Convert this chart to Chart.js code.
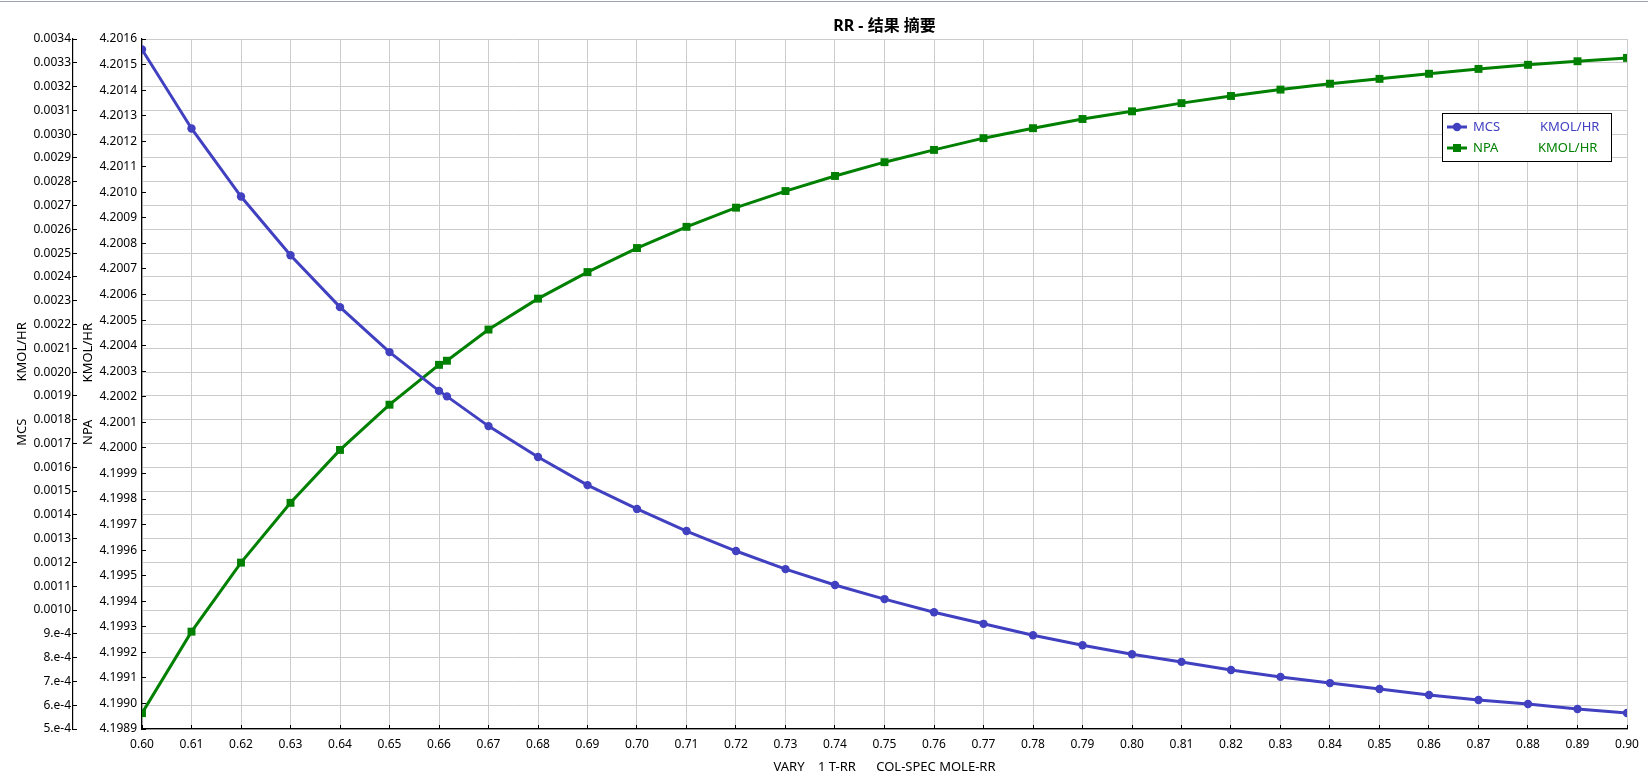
<!DOCTYPE html>
<html>
<head>
<meta charset="utf-8">
<style>
  html, body { margin: 0; padding: 0; background: #fff; overflow: hidden; }
  #topline { position: absolute; left: 0; top: 1px; width: 1648px; height: 1px; background: #9aa3b5; }
  canvas { display: block; }
</style>
<script src="https://cdn.jsdelivr.net/npm/chart.js@4"></script>
</head>
<body>
<div id="topline"></div>
<canvas id="c" width="1648" height="777"></canvas>
<script>
// ---- data ----
const titleText = 'RR - 结果 摘要';
const xAxisTitle = 'VARY    1 T-RR      COL-SPEC MOLE-RR';
const mcsAxisTitle = 'MCS           KMOL/HR';
const npaAxisTitle = 'NPA           KMOL/HR';
const seriesNames = ['MCS', 'NPA'];
const seriesUnits = ['KMOL/HR', 'KMOL/HR'];

const xValues = [0.60, 0.61, 0.62, 0.63, 0.64, 0.65, 0.66, 0.6616, 0.67, 0.68, 0.69, 0.70,
  0.71, 0.72, 0.73, 0.74, 0.75, 0.76, 0.77, 0.78, 0.79, 0.80, 0.81, 0.82,
  0.83, 0.84, 0.85, 0.86, 0.87, 0.88, 0.89, 0.90];
const mcsValues = [0.003356, 0.003024, 0.002738, 0.002491, 0.002273, 0.002084, 0.001921, 0.001898,
  0.001773, 0.001643, 0.001525, 0.001425, 0.001332, 0.001248, 0.001172, 0.001105,
  0.001046, 0.000991, 0.000942, 0.000894, 0.000852, 0.000814, 0.000782, 0.000748,
  0.000719, 0.000693, 0.000668, 0.000643, 0.000622, 0.000605, 0.000584, 0.000567];
const npaValues = [4.198962, 4.199281, 4.199551, 4.199785, 4.199992, 4.200169, 4.200325, 4.200341,
  4.200463, 4.200584, 4.200688, 4.200782, 4.200865, 4.200940, 4.201005, 4.201064,
  4.201118, 4.201166, 4.201212, 4.201251, 4.201287, 4.201317, 4.201349, 4.201377,
  4.201402, 4.201425, 4.201444, 4.201464, 4.201483, 4.201499, 4.201513, 4.201526];

const xTickLabels = ['0.60','0.61','0.62','0.63','0.64','0.65','0.66','0.67','0.68','0.69','0.70',
  '0.71','0.72','0.73','0.74','0.75','0.76','0.77','0.78','0.79','0.80','0.81','0.82',
  '0.83','0.84','0.85','0.86','0.87','0.88','0.89','0.90'];
const mcsTickValues = [0.0005, 0.0006, 0.0007, 0.0008, 0.0009, 0.0010, 0.0011, 0.0012, 0.0013, 0.0014,
  0.0015, 0.0016, 0.0017, 0.0018, 0.0019, 0.0020, 0.0021, 0.0022, 0.0023, 0.0024,
  0.0025, 0.0026, 0.0027, 0.0028, 0.0029, 0.0030, 0.0031, 0.0032, 0.0033, 0.0034];
const mcsTickLabels = ['5.e-4','6.e-4','7.e-4','8.e-4','9.e-4','0.0010','0.0011','0.0012','0.0013','0.0014',
  '0.0015','0.0016','0.0017','0.0018','0.0019','0.0020','0.0021','0.0022','0.0023','0.0024',
  '0.0025','0.0026','0.0027','0.0028','0.0029','0.0030','0.0031','0.0032','0.0033','0.0034'];
const npaTickLabels = ['4.1989','4.1990','4.1991','4.1992','4.1993','4.1994','4.1995','4.1996','4.1997',
  '4.1998','4.1999','4.2000','4.2001','4.2002','4.2003','4.2004','4.2005','4.2006','4.2007',
  '4.2008','4.2009','4.2010','4.2011','4.2012','4.2013','4.2014','4.2015','4.2016'];

// ---- styles ----
const MCS_COLOR = 'rgb(64,64,192)';
const NPA_COLOR = 'rgb(0,128,0)';
const GRID = 'rgb(204,204,204)';
const FONT = "'Noto Sans', 'Noto Sans CJK SC', sans-serif";

Chart.defaults.font.family = FONT;
Chart.defaults.font.size = 12;
Chart.defaults.color = '#000';

function fixed(w, h) {
  return function (scale) {
    if (w !== null) scale.width = w;
    if (h !== null) scale.height = h;
    scale.paddingLeft = 0; scale.paddingRight = 0; scale.paddingTop = 0; scale.paddingBottom = 0;
  };
}

const legendPlugin = {
  id: 'customLegend',
  afterDraw(chart) {
    const ctx = chart.ctx;
    ctx.save();
    const bx = 1442, by = 113, bw = 169, bh = 48;
    ctx.fillStyle = '#fff';
    ctx.fillRect(bx, by, bw, bh);
    ctx.strokeStyle = '#000';
    ctx.lineWidth = 1;
    ctx.strokeRect(bx + 0.5, by + 0.5, bw, bh);
    const rows = [
      { y: 127, color: MCS_COLOR, style: 'circle', r: 4.2, unitX: 1540 },
      { y: 148, color: NPA_COLOR, style: 'rect', r: 4, unitX: 1538 }
    ];
    rows.forEach((row, i) => {
      ctx.strokeStyle = row.color;
      ctx.lineWidth = 3;
      ctx.beginPath();
      ctx.moveTo(1447, row.y);
      ctx.lineTo(1467, row.y);
      ctx.stroke();
      ctx.fillStyle = row.color;
      ctx.beginPath();
      if (row.style === 'circle') { ctx.arc(1457, row.y, row.r, 0, Math.PI * 2); }
      else { ctx.rect(1457 - row.r, row.y - row.r, 2 * row.r, 2 * row.r); }
      ctx.fill();
      ctx.font = '13px ' + FONT;
      ctx.textBaseline = 'middle';
      ctx.textAlign = 'left';
      ctx.fillText(seriesNames[i], 1473, row.y);
      ctx.fillText(seriesUnits[i], row.unitX, row.y);
    });
    ctx.restore();
  }
};

new Chart(document.getElementById('c'), {
  type: 'line',
  data: {
    datasets: [
      {
        label: seriesNames[0],
        data: xValues.map((x, i) => ({ x: x, y: mcsValues[i] })),
        yAxisID: 'yMCS',
        borderColor: MCS_COLOR,
        backgroundColor: MCS_COLOR,
        borderWidth: 3,
        pointStyle: 'circle',
        pointRadius: 4.2,
        pointBorderWidth: 0,
        tension: 0
      },
      {
        label: seriesNames[1],
        data: xValues.map((x, i) => ({ x: x, y: npaValues[i] })),
        yAxisID: 'yNPA',
        borderColor: NPA_COLOR,
        backgroundColor: NPA_COLOR,
        borderWidth: 3,
        pointStyle: 'rect',
        pointRadius: 5.6,
        pointBorderWidth: 0,
        tension: 0
      }
    ]
  },
  options: {
    responsive: false,
    animation: false,
    events: [],
    layout: { padding: { left: 0, right: 21, top: 0, bottom: 0 } },
    plugins: {
      legend: { display: false },
      tooltip: { enabled: false },
      title: {
        display: true,
        text: titleText,
        fullSize: false,
        color: '#000',
        font: { size: 16, weight: 'bold', family: FONT },
        padding: { top: 17, bottom: 2.8 }
      }
    },
    scales: {
      x: {
        type: 'linear',
        position: 'bottom',
        min: 0.60,
        max: 0.90,
        afterBuildTicks: (s) => { s.ticks = xTickLabels.map(t => ({ value: parseFloat(t) })); },
        afterFit: fixed(null, 48),
        ticks: {
          autoSkip: false,
          maxRotation: 0,
          padding: 12,
          callback: (v, i) => xTickLabels[i],
          font: { size: 12 }
        },
        grid: { color: GRID, lineWidth: 1, tickLength: -4, tickColor: '#000' },
        border: { color: '#000', width: 1.2 },
        title: { display: true, text: xAxisTitle, padding: { top: 0, bottom: 2 }, font: { size: 13 } }
      },
      yMCS: {
        type: 'linear',
        position: 'left',
        weight: 2,
        min: 0.0005,
        max: 0.0034,
        afterBuildTicks: (s) => { s.ticks = mcsTickValues.map(v => ({ value: v })); },
        afterFit: fixed(73, null),
        ticks: {
          autoSkip: false,
          padding: 6,
          callback: (v, i) => mcsTickLabels[i],
          font: { size: 12 }
        },
        grid: { color: GRID, lineWidth: 1, tickLength: -4, tickColor: '#000' },
        border: { color: '#000', width: 1.2 },
        title: { display: true, text: mcsAxisTitle, padding: { top: 14, bottom: 0 }, font: { size: 13 } }
      },
      yNPA: {
        type: 'linear',
        position: 'left',
        weight: 1,
        min: 4.1989,
        max: 4.2016,
        afterBuildTicks: (s) => { s.ticks = npaTickLabels.map(t => ({ value: parseFloat(t) })); },
        afterFit: fixed(69, null),
        ticks: {
          autoSkip: false,
          padding: 9,
          callback: (v, i) => npaTickLabels[i],
          font: { size: 12 }
        },
        grid: { drawOnChartArea: false, color: GRID, tickLength: -4, tickColor: '#000' },
        border: { color: '#000', width: 1.2 },
        title: { display: true, text: npaAxisTitle, padding: { top: 7, bottom: 0 }, font: { size: 13 } }
      }
    }
  },
  plugins: [legendPlugin]
});
</script>
</body>
</html>
